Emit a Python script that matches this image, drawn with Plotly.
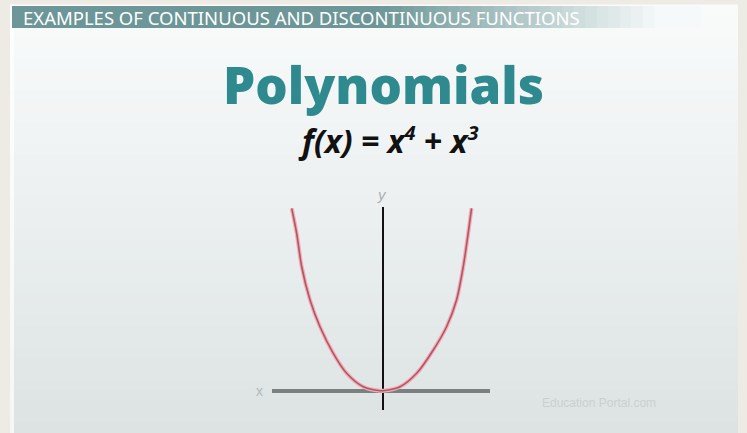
import plotly.graph_objects as go

# ---- data (units of the drawn axes) ----
curve_x = [-1.213, -1.147, -1.080, -0.969, -0.836, -0.659, -0.480, -0.259, -0.036,
           0.008, 0.231, 0.453, 0.675, 0.852, 0.985, 1.074, 1.140, 1.185]
curve_y = [2.432, 2.099, 1.653, 1.209, 0.853, 0.499, 0.232, 0.053, 0.0,
           0.0, 0.053, 0.232, 0.543, 0.853, 1.209, 1.653, 2.099, 2.432]
banner_text = "EXAMPLES OF CONTINUOUS AND DISCONTINUOUS FUNCTIONS"
title_text = "Polynomials"
formula_text = ("<i>f(x) = x<sup><span style='font-size:20px'>4</span></sup> + "
                "x<sup><span style='font-size:20px'>3</span></sup></i>")
watermark_text = "Education Portal.com"

W, H = 747, 433


def lerp(c1, c2, t):
    return "rgb(%d,%d,%d)" % tuple(round(a + (b - a) * t) for a, b in zip(c1, c2))


fig = go.Figure()
fig.add_trace(go.Scatter(x=curve_x, y=curve_y, mode="lines",
                         line=dict(color="#eeb0b8", width=4, shape="spline", smoothing=0.8),
                         hoverinfo="skip", cliponaxis=False, showlegend=False))
fig.add_trace(go.Scatter(x=curve_x, y=curve_y, mode="lines",
                         line=dict(color="#b65464", width=1.6, shape="spline", smoothing=0.8),
                         hoverinfo="skip", cliponaxis=False, showlegend=False))

shapes = []
# panel gradient
n = 40
p_x0, p_x1, p_y0, p_y1 = 10 / W, 738 / W, 0.0, 1 - 5 / H
top_c, bot_c = (249, 251, 251), (221, 227, 227)
for i in range(n):
    t = i / (n - 1)
    ya = p_y1 - (p_y1 - p_y0) * i / n
    yb = p_y1 - (p_y1 - p_y0) * (i + 1) / n
    shapes.append(dict(type="rect", xref="paper", yref="paper", x0=p_x0, x1=p_x1,
                       y0=yb, y1=ya + 0.001, line=dict(width=0),
                       fillcolor=lerp(top_c, bot_c, t), layer="below"))
# left highlight strip
shapes.append(dict(type="rect", xref="paper", yref="paper", x0=10 / W, x1=14 / W,
                   y0=0, y1=p_y1, line=dict(width=0), fillcolor="rgba(255,255,255,0.7)",
                   layer="below"))
# banner gradient
m = 60
b_x0, b_x1 = 12 / W, 700 / W
b_y0, b_y1 = 1 - 28 / H, 1 - 6 / H
left_c, right_c = (108, 150, 151), (246, 249, 249)
for i in range(m):
    xa = b_x0 + (b_x1 - b_x0) * i / m
    xb = b_x0 + (b_x1 - b_x0) * (i + 1) / m
    px = (xa + xb) / 2 * W
    tt = min(1.0, max(0.0, (px - 380) / 280))
    shapes.append(dict(type="rect", xref="paper", yref="paper", x0=xa, x1=xb + 0.001,
                       y0=b_y0, y1=b_y1, line=dict(width=0),
                       fillcolor=lerp(left_c, right_c, tt), layer="below"))

fig.update_layout(
    width=W, height=H,
    margin=dict(l=0, r=0, t=0, b=0, autoexpand=False),
    paper_bgcolor="#eeebe5",
    plot_bgcolor="rgba(0,0,0,0)",
    shapes=shapes,
    xaxis=dict(domain=[272 / W, 490 / W], range=[-1.476, 1.431],
               showgrid=False, showticklabels=False, ticks="",
               zeroline=True, zerolinecolor="#111111", zerolinewidth=2,
               fixedrange=True),
    yaxis=dict(domain=[(H - 410) / H, (H - 207) / H], range=[-0.2573, 2.4493],
               showgrid=False, showticklabels=False, ticks="",
               zeroline=True, zerolinecolor="#7b8080", zerolinewidth=4,
               fixedrange=True),
    annotations=[
        dict(text=banner_text, xref="paper", yref="paper", x=21 / W, y=1 - 17 / H,
             xanchor="left", yanchor="middle", showarrow=False,
             font=dict(family="Noto Sans", size=18.5, color="white")),
        dict(text=title_text, xref="paper", yref="paper",
             x=383 / W, y=1 - 84 / H, xanchor="center", yanchor="middle", showarrow=False,
             font=dict(family="Open Sans", size=51, color="#2f8a8f", weight=800)),
        dict(text="<b>" + formula_text + "</b>", xref="paper", yref="paper",
             x=388 / W, y=1 - 140 / H, xanchor="center", yanchor="middle", showarrow=False,
             font=dict(family="Open Sans", size=32, color="#111111")),
        dict(text="<i>y</i>", xref="paper", yref="paper", x=382 / W, y=1 - 194 / H,
             xanchor="center", yanchor="middle", showarrow=False,
             font=dict(family="Liberation Sans", size=15, color="#a9b0b0")),
        dict(text="x", xref="paper", yref="paper", x=259 / W, y=1 - 391 / H,
             xanchor="center", yanchor="middle", showarrow=False,
             font=dict(family="Liberation Sans", size=14, color="#b3b9b9")),
        dict(text=watermark_text, xref="paper", yref="paper", x=540 / W, y=1 - 403 / H,
             xanchor="left", yanchor="middle", showarrow=False,
             font=dict(family="Liberation Sans", size=12, color="#c9d0d0")),
    ],
)

fig.write_html("out.html", config={"displayModeBar": False},
               post_script="document.body.style.margin='0';")
